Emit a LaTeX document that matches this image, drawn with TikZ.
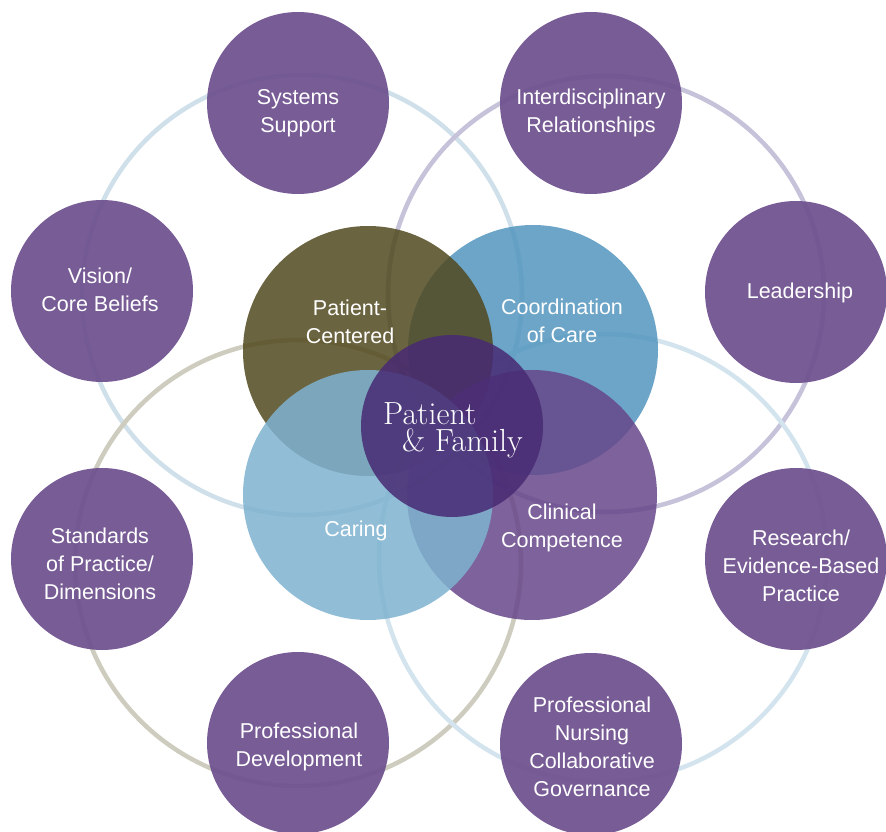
\documentclass[tikz,border=0pt]{standalone}
\usepackage{fontspec}
\newfontfamily\lblfont{Liberation Sans}
\usetikzlibrary{positioning}
\definecolor{plum}{RGB}{110,80,142}
\definecolor{olivecore}{RGB}{81,73,30}
\definecolor{coordblue}{RGB}{82,149,190}
\definecolor{caringblue}{RGB}{126,178,208}
\definecolor{clinplum}{RGB}{102,70,137}
\definecolor{familyplum}{RGB}{72,42,115}
\definecolor{ringblue}{RGB}{207,224,234}
\definecolor{ringlav}{RGB}{197,194,218}
\definecolor{ringsand}{RGB}{205,204,190}
\definecolor{ringsky}{RGB}{211,228,238}

\begin{document}
\begin{tikzpicture}[x=1pt,y=1pt]

\tikzset{outer/.style={circle,fill=plum,fill opacity=0.93,minimum size=182pt,inner sep=0pt},
venn/.style={circle,fill opacity=0.85,minimum size=250pt,inner sep=0pt},
lbl/.style={text=white,font=\lblfont\fontsize{21.5}{28}\selectfont,align=center,inner sep=0pt},
famlbl/.style={text=white,font=\fontsize{32}{27}\selectfont,inner sep=0pt,anchor=base west},
ring/.style={line width=4.5pt}}

\useasboundingbox (0,0) rectangle (886,831);

% rings behind everything
\draw[ring,ringblue] (302,536) circle[radius=220];
\draw[ring,ringlav] (606,537) circle[radius=218];
\draw[ring,ringsand] (298,268) circle[radius=223];
\draw[ring,ringsky] (603,273) circle[radius=224];

%===================================================================
\node[outer] at (298,728) [name=sys] {};
\node[outer] at (102,540) [name=vis] {};
\node[outer] at (591,728) [name=inter] {};
\node[outer] at (796,539) [name=lead] {};
\node[outer] at (102,272) [name=std] {};
\node[outer] at (796,272) [name=res] {};
\node[outer] at (298,88) [name=pdev] {};
\node[outer] at (591,87) [name=pnur] {};

\node[lbl] at ([yshift=-10pt]sys.center) [name=syslbl] {Systems\\Support};
\node[lbl] at ([xshift=-2pt,yshift=1pt]vis.center) [name=vislbl] {Vision/\\Core Beliefs};
\node[lbl] at ([yshift=-10pt]inter.center) [name=interlbl] {Interdisciplinary\\Relationships};
\node[lbl] at ([xshift=4pt,yshift=-1pt]lead.center) [name=leadlbl] {Leadership};
\node[lbl] at ([xshift=-2pt,yshift=-5pt]std.center) [name=stdlbl] {Standards\\of Practice/\\Dimensions};
\node[lbl] at ([xshift=5pt,yshift=-7pt]res.center) [name=reslbl] {Research/\\Evidence-Based\\Practice};
\node[lbl] at ([xshift=1pt,yshift=-4pt]pdev.center) [name=pdevlbl] {Professional\\Development};
\node[lbl] at ([xshift=1pt,yshift=-3pt]pnur.center) [name=pnurlbl] {Professional\\Nursing\\Collaborative\\Governance};

%===================================================================
\node[venn,fill=coordblue] at (533,481) [name=coc] {};
\node[venn,fill=olivecore] at (368,480) [name=pc] {};
\node[venn,fill=clinplum] at (532,336) [name=cli] {};
\node[venn,fill=caringblue] at (368,336) [name=car] {};
\node[venn,fill=familyplum,minimum size=182pt] at (452,405) [name=pf] {};

\node[lbl] at ([xshift=-18pt,yshift=29pt]pc.center) [name=pclbl] {Patient-\\Centered};
\node[lbl] at ([xshift=29pt,yshift=29pt]coc.center) [name=coclbl] {Coordination\\of Care};
\node[lbl] at ([xshift=-12pt,yshift=-36pt]car.center) [name=carlbl] {Caring};
\node[lbl] at ([xshift=30pt,yshift=-33pt]cli.center) [name=clilbl] {Clinical\\Competence};

\node[famlbl] at ([xshift=-69pt,yshift=1pt]pf.center) [name=pflbl] {Patient};
\node[famlbl] at ([xshift=19pt,yshift=-27pt]pflbl.base west) [name=pflblb] {\& Family};

\end{tikzpicture}
\end{document}
